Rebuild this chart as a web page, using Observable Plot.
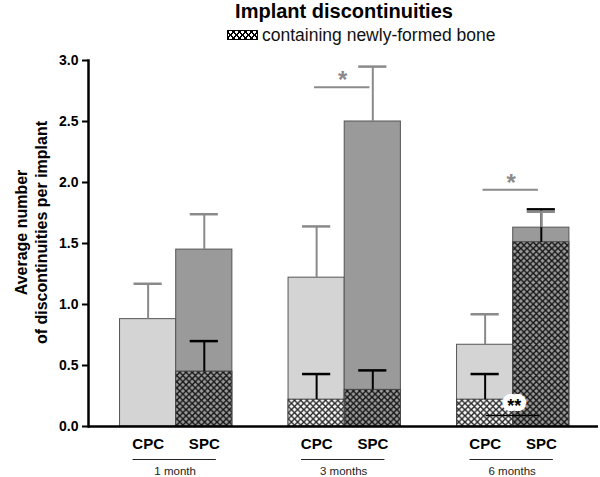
<!DOCTYPE html>
<html><head><meta charset="utf-8">
<script src="https://cdn.jsdelivr.net/npm/d3@7"></script>
<script src="https://cdn.jsdelivr.net/npm/@observablehq/plot@0.6"></script>
<style>
body{margin:0;background:#fff;font-family:"Liberation Sans",Arial,sans-serif;}
#wrap{position:relative;width:600px;height:477px;overflow:hidden;}
#head{position:relative;width:600px;height:50px;}
#title{position:absolute;left:344px;top:1px;transform:translateX(-50%);font-size:20px;line-height:20px;font-weight:bold;white-space:nowrap;color:#000;}
#swatch{position:absolute;left:227px;top:30px;width:29px;height:8px;border:1px solid #000;background-color:#fff;
 background-image:repeating-linear-gradient(45deg,#000 0 1.2px,transparent 1.2px 4.2px),repeating-linear-gradient(-45deg,#000 0 1.2px,transparent 1.2px 4.2px);}
#legtext{position:absolute;left:262px;top:27px;font-size:17.5px;line-height:17px;white-space:nowrap;color:#111;}
</style></head>
<body>
<div id="wrap">
  <div id="head">
    <div id="title">Implant discontinuities</div>
    <div id="swatch"></div>
    <div id="legtext">containing newly-formed bone</div>
  </div>
  <div id="chart"></div>
</div>
<script>
const months = ["1 month", "3 months", "6 months"];
const cements = ["CPC", "SPC"];
// order: 1m CPC, 1m SPC, 3m CPC, 3m SPC, 6m CPC, 6m SPC
const totalMean = [0.88, 1.45, 1.22, 2.50, 0.67, 1.63];
const totalErr  = [0.29, 0.29, 0.42, 0.45, 0.25, 0.13];
const boneMean  = [0.00, 0.45, 0.22, 0.30, 0.22, 1.51];
const boneErr   = [0.00, 0.25, 0.21, 0.16, 0.21, 0.27];
const yTicks = [0, 0.5, 1.0, 1.5, 2.0, 2.5, 3.0];
const sigMonth = ["3 months", "6 months", "6 months"];
const sigLevel = [2.78, 1.94, 0.09];
const sigLabel = ["*", "*", "**"];

const rows = [];
months.forEach((m, i) => cements.forEach((c, j) => {
  const k = i * cements.length + j;
  rows.push({month: m, cement: c, key: m + "|" + c,
    total: totalMean[k], totalErr: totalErr[k], bone: boneMean[k], boneErr: boneErr[k]});
}));
const keys = months.flatMap((m, i) => [...cements.map(c => m + "|" + c), ...(i < months.length - 1 ? ["gap" + i] : [])]);
const realKeys = rows.map(d => d.key);
const sig = sigMonth.map((m, i) => ({month: m, level: sigLevel[i], label: sigLabel[i]}));
const boneRows = rows.filter(d => d.bone > 0);

const GRAY_ERR = "#8a8a8a";

const chart = Plot.plot({
  width: 600, height: 427,
  marginTop: 10, marginBottom: 51, marginLeft: 88, marginRight: 2,
  style: {fontFamily: "'Liberation Sans', Arial, sans-serif", fontSize: "14px", color: "#000", background: "#fff"},
  x: {type: "band", domain: keys, paddingInner: 0, paddingOuter: 0.54, align: 0.52, round: false, axis: null},
  y: {domain: [0, 3], axis: null},
  marks: [
    Plot.barY(rows.filter(d => d.cement === "CPC"), {x: "key", y: "total", fill: "#d4d4d4", stroke: "#555", strokeWidth: 1}),
    Plot.barY(rows.filter(d => d.cement === "SPC"), {x: "key", y: "total", fill: "#9a9a9a", stroke: "#555", strokeWidth: 1}),
    Plot.barY(boneRows.filter(d => d.cement === "CPC"), {x: "key", y: "bone", fill: "url(#hatchLight)", stroke: "#444", strokeWidth: 1}),
    Plot.barY(boneRows.filter(d => d.cement === "SPC"), {x: "key", y: "bone", fill: "url(#hatchDark)", stroke: "#444", strokeWidth: 1}),
    Plot.ruleX(boneRows, {x: "key", y1: "bone", y2: d => d.bone + d.boneErr, stroke: "#000", strokeWidth: 2}),
    Plot.tickY(boneRows, {x: "key", y: d => d.bone + d.boneErr, stroke: "#000", strokeWidth: 2.5, insetLeft: 14, insetRight: 14}),
    Plot.ruleX(rows, {x: "key", y1: "total", y2: d => d.total + d.totalErr, stroke: GRAY_ERR, strokeWidth: 2}),
    Plot.tickY(rows, {x: "key", y: d => d.total + d.totalErr, stroke: GRAY_ERR, strokeWidth: 2.5, insetLeft: 14, insetRight: 14}),
    // significance
    Plot.ruleY(sig.filter(d => d.label === "*"), {y: "level", x1: d => d.month + "|CPC", x2: d => d.month + "|SPC", insetLeft: 26, insetRight: 31, stroke: GRAY_ERR, strokeWidth: 2}),
    Plot.text(sig.filter(d => d.label === "*"), {x: d => d.month + "|CPC", y: "level", text: "label", dx: 26, dy: -7, fill: GRAY_ERR, fontSize: 24, fontWeight: "bold"}),
    Plot.ruleY(sig.filter(d => d.label === "**"), {y: "level", x1: d => d.month + "|CPC", x2: d => d.month + "|SPC", insetLeft: 29, insetRight: 30, stroke: "#000", strokeWidth: 1.5}),
    Plot.text(sig.filter(d => d.label === "**"), {x: d => d.month + "|CPC", y: "level", text: "label", dx: 29, dy: -9, fill: "#000", stroke: "#fff", strokeWidth: 10, strokeLinejoin: "round", paintOrder: "stroke", fontSize: 18, fontWeight: "bold"}),
    // axes
    Plot.axisY({ticks: yTicks, tickFormat: d3.format(".1f"), tickSize: 6, tickPadding: 4, strokeWidth: 2, fontSize: 14, fontWeight: "bold", label: null}),
    Plot.axisX({ticks: realKeys, tickFormat: k => k.split("|")[1], tickSize: 0, tickPadding: 12, fontSize: 15, fontWeight: "bold", label: null}),
    Plot.frame({anchor: "left", strokeWidth: 2.5, stroke: "#000"}),
    Plot.ruleY([0], {strokeWidth: 2.5, stroke: "#000"}),
    // group lines and labels
    Plot.ruleY(months, {y: 0, x1: m => m + "|CPC", x2: m => m + "|SPC", insetLeft: 13, insetRight: 16, dy: 33, stroke: "#222", strokeWidth: 1.2}),
    Plot.text(months, {x: m => m + "|CPC", frameAnchor: "bottom", text: m => m, dx: 27, dy: 48.5, fontSize: 11.5, fill: "#222"}),
    Plot.text(["Average number\nof discontinuities per implant"], {frameAnchor: "left", textAnchor: "middle", rotate: -90, dx: -57.6, dy: -11, fontSize: 16, fontWeight: "bold", lineHeight: 1.19, fill: "#000"})
  ]
});

// hatch patterns
const svg = d3.select(chart);
const defs = svg.insert("defs", ":first-child");
function pattern(id, bg, line) {
  const p = defs.append("pattern").attr("id", id).attr("width", 6.2).attr("height", 6.2).attr("patternUnits", "userSpaceOnUse");
  p.append("rect").attr("width", 6.2).attr("height", 6.2).attr("fill", bg);
  p.append("path").attr("d", "M0,0L6.2,6.2M6.2,0L0,6.2").attr("stroke", line).attr("stroke-width", 1.35).attr("fill", "none");
}
pattern("hatchLight", "#f6f6f6", "#222");
pattern("hatchDark", "#9a9a9a", "#111");

document.getElementById("chart").appendChild(chart);
</script>
</body></html>
